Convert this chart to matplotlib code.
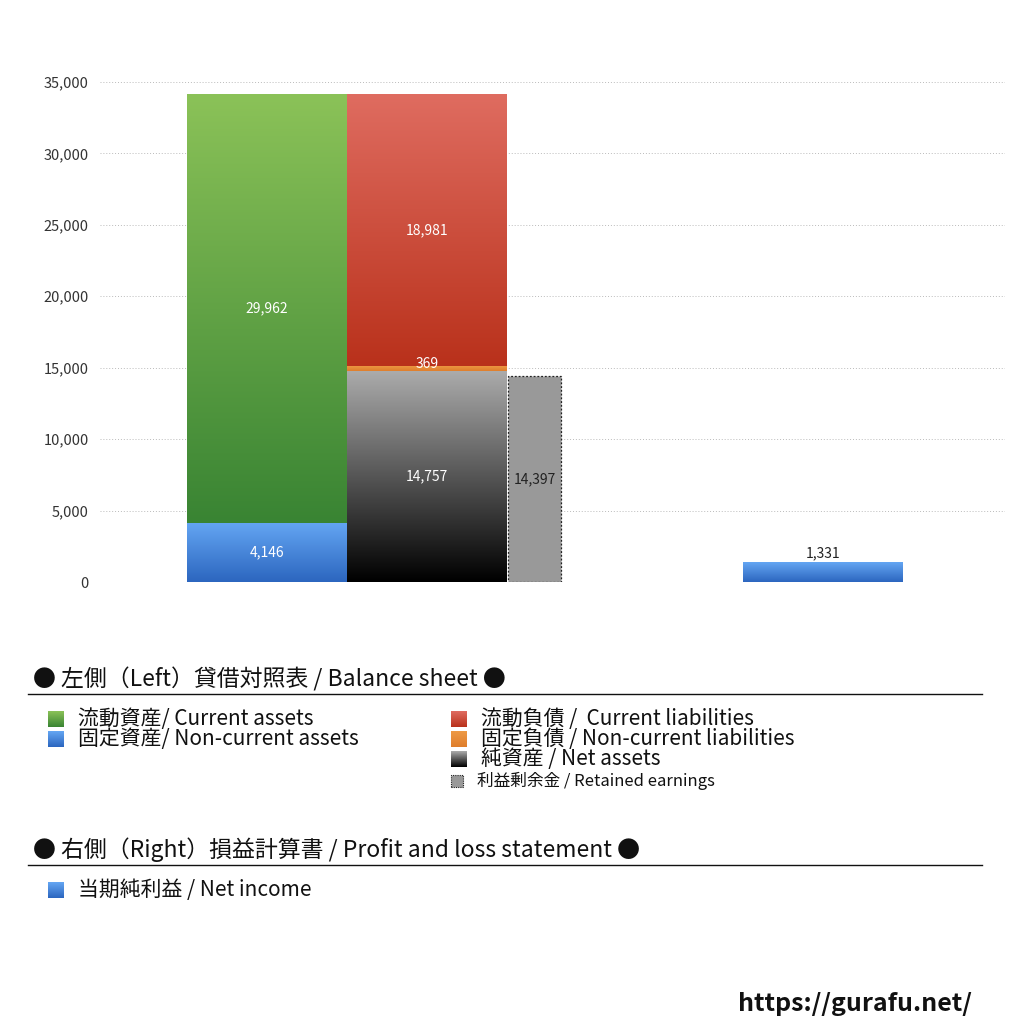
import numpy as np
import matplotlib.pyplot as plt
from matplotlib.colors import LinearSegmentedColormap

plt.rcParams['font.family'] = ['Noto Sans CJK JP', 'DejaVu Sans']

# 貸借対照表 (左側) / 損益計算書 (右側)
current_assets = 29962
noncurrent_assets = 4146
current_liabilities = 18981
noncurrent_liabilities = 369
net_assets = 14757
retained_earnings = 14397
net_income = 1331
y_ticks = [0, 5000, 10000, 15000, 20000, 25000, 30000, 35000]

fig = plt.figure(figsize=(10.24, 10.24), dpi=100)
ax = fig.add_axes([100/1024, 1 - 582/1024, 905/1024, 500/1024])
ax.set_xlim(100, 1005)
ax.set_ylim(0, 35000)

# posições das barras (em pixels da figura)
x_ativo, x_passivo, x_lucros, x_pl = 267, 427, 534.5, 823
w_largo, w_estreito = 160, 53

def gradiente(barra, topo, base, z=2):
    cmap = LinearSegmentedColormap.from_list('g', [base, topo])
    x0, y0 = barra.get_x(), barra.get_y()
    x1, y1 = x0 + barra.get_width(), y0 + barra.get_height()
    grad = np.linspace(0, 1, 256).reshape(-1, 1)
    ax.imshow(grad, extent=[x0, x1, y0, y1], origin='lower', aspect='auto',
              cmap=cmap, zorder=z)

b_nc = ax.bar(x_ativo, noncurrent_assets, w_largo, color='none')[0]
b_ca = ax.bar(x_ativo, current_assets, w_largo, bottom=noncurrent_assets, color='none')[0]
b_na = ax.bar(x_passivo, net_assets, w_largo, color='none')[0]
b_ncl = ax.bar(x_passivo, noncurrent_liabilities, w_largo, bottom=net_assets, color='none')[0]
b_cl = ax.bar(x_passivo, current_liabilities, w_largo,
              bottom=net_assets + noncurrent_liabilities, color='none')[0]
b_re = ax.bar(x_lucros, retained_earnings, w_estreito, color='#999999',
              edgecolor='#222222', linestyle=(0, (1.5, 1.5)), linewidth=0.9, zorder=3)[0]
b_ni = ax.bar(x_pl, net_income, w_largo, color='none')[0]

gradiente(b_nc, '#64A6F3', '#2C66BF')
gradiente(b_ca, '#8BC258', '#398433')
gradiente(b_na, '#ABABAB', '#000000')
gradiente(b_ncl, '#EE9A45', '#DF7E2C')
gradiente(b_cl, '#DF6C60', '#B9311B')
gradiente(b_ni, '#64A6F3', '#2C66BF')

def rotulo(barra, texto, cor='white', dy=0):
    xc = barra.get_x() + barra.get_width() / 2
    yc = barra.get_y() + barra.get_height() / 2 + dy
    ax.text(xc, yc, texto, ha='center', va='center', fontsize=10, color=cor, zorder=5)

rotulo(b_nc, f'{noncurrent_assets:,}')
rotulo(b_ca, f'{current_assets:,}')
rotulo(b_na, f'{net_assets:,}')
rotulo(b_ncl, f'{noncurrent_liabilities:,}', dy=350)
rotulo(b_cl, f'{current_liabilities:,}')
rotulo(b_re, f'{retained_earnings:,}', cor='#222222')
ax.text(x_pl, net_income + 200, f'{net_income:,}', ha='center', va='bottom',
        fontsize=10, color='#222222')

ax.set_yticks(y_ticks)
ax.set_yticklabels([f'{v:,}' for v in y_ticks], fontsize=10.5, color='#333333')
ax.set_xticks([])
ax.tick_params(axis='y', length=0, pad=8)
for s in ax.spines.values():
    s.set_visible(False)
ax.grid(axis='y', color='#BBBBBB', linestyle=(0, (1, 2)), linewidth=0.7, zorder=0)
ax.set_axisbelow(True)

# legenda manual
def px(x, y):
    return x / 1024, 1 - y / 1024

def titulo(y, texto):
    fig.text(*px(33, y), texto, fontsize=16.5, va='center', ha='left', color='#111111')
    fig.add_artist(plt.Line2D([28/1024, 982/1024], [1 - (y + 15)/1024] * 2,
                              color='#111111', linewidth=1))

def item(x, y, texto, topo, base, tam=15, lado=16, pontilhado=False):
    cx, cy = px(x, y)
    w, h = lado / 1024, lado / 1024
    if pontilhado:
        fig.add_artist(plt.Rectangle((cx, cy - h/2), w, h, facecolor='#999999',
                                     edgecolor='#222222', linestyle=(0, (1, 1)),
                                     linewidth=0.8, transform=fig.transFigure))
    else:
        cmap = LinearSegmentedColormap.from_list('g', [base, topo])
        sq = fig.add_axes([cx, cy - h/2, w, h])
        sq.imshow(np.linspace(0, 1, 64).reshape(-1, 1), origin='lower', aspect='auto', cmap=cmap)
        sq.axis('off')
    fig.text(cx + (lado + 14) / 1024, cy, texto, fontsize=tam, va='center', ha='left',
             color='#111111')

titulo(679, '● 左側（Left）貸借対照表 / Balance sheet ●')
item(48, 719, '流動資産/ Current assets', '#8BC258', '#398433')
item(48, 739, '固定資産/ Non-current assets', '#64A6F3', '#2C66BF')
item(451, 719, '流動負債 /  Current liabilities', '#DF6C60', '#B9311B')
item(451, 739, '固定負債 / Non-current liabilities', '#EE9A45', '#DF7E2C')
item(451, 759, '純資産 / Net assets', '#ABABAB', '#000000')
item(451, 781, '利益剰余金 / Retained earnings', None, None, tam=12, lado=12, pontilhado=True)

titulo(850, '● 右側（Right）損益計算書 / Profit and loss statement ●')
item(48, 890, '当期純利益 / Net income', '#64A6F3', '#2C66BF')

fig.text(*px(972, 1004), 'https://gurafu.net/', fontsize=18, fontweight='bold',
         ha='right', va='center', color='#111111')

fig.savefig('out.png', dpi=100)
